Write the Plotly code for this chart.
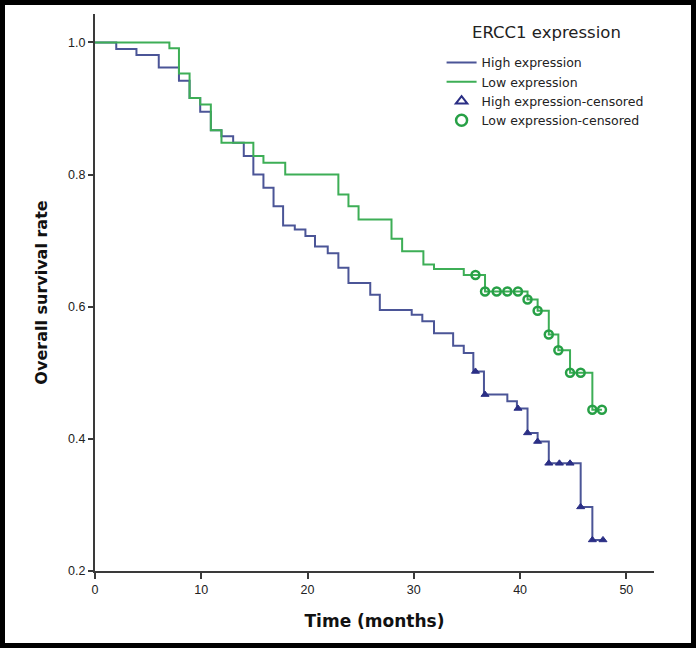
import plotly.graph_objects as go

# ---- data (Kaplan-Meier, ERCC1 expression) ----
high_times = [0, 2.0, 3.9, 6.0, 7.9, 8.9, 9.9, 10.9, 11.9, 13.0, 14.0, 14.9, 15.85, 16.8,
              17.7, 18.8, 19.8, 20.7, 21.9, 22.9, 23.85, 25.9, 26.8, 29.8, 30.8, 31.9,
              33.7, 34.7, 35.6, 36.6, 38.8, 39.7, 40.7, 41.65, 42.7, 45.7, 46.8]
high_surv = [1.0, 0.990, 0.981, 0.962, 0.942, 0.916, 0.895, 0.867, 0.858, 0.848, 0.828,
             0.800, 0.780, 0.752, 0.723, 0.717, 0.707, 0.691, 0.681, 0.659, 0.636, 0.618,
             0.595, 0.588, 0.578, 0.560, 0.541, 0.530, 0.502, 0.467, 0.457, 0.446, 0.409,
             0.396, 0.363, 0.297, 0.247]
high_cens_times = [35.8, 36.7, 39.8, 40.7, 41.65, 42.7, 43.7, 44.7, 45.7, 46.8, 47.8]
high_cens_surv = [0.502, 0.467, 0.446, 0.409, 0.396, 0.363, 0.363, 0.363, 0.297, 0.247, 0.247]

low_times = [0, 7.0, 7.9, 8.9, 9.9, 10.9, 11.9, 14.9, 15.85, 17.9, 22.9, 23.85, 24.8,
             27.9, 28.9, 30.9, 31.9, 34.7, 36.7, 40.7, 41.65, 42.7, 43.6, 44.7, 46.8]
low_surv = [1.0, 0.991, 0.953, 0.916, 0.906, 0.867, 0.848, 0.828, 0.818, 0.800, 0.770,
            0.752, 0.732, 0.703, 0.684, 0.664, 0.657, 0.648, 0.623, 0.611, 0.594, 0.558,
            0.534, 0.500, 0.444]
low_cens_times = [35.8, 36.7, 37.8, 38.8, 39.8, 40.7, 41.65, 42.7, 43.6, 44.7, 45.7, 46.8, 47.7]
low_cens_surv = [0.648, 0.623, 0.623, 0.623, 0.623, 0.611, 0.594, 0.558, 0.534, 0.500,
                 0.500, 0.444, 0.444]

x_ticks = [0, 10, 20, 30, 40, 50]
y_ticks = [0.2, 0.4, 0.6, 0.8, 1.0]

legend_title = "ERCC1 expression"
names = ["High expression", "Low expression",
         "High expression-censored", "Low expression-censored"]

# ---- styles ----
BLUE_LINE = "#4B5597"
BLUE_MARK = "#2B2F85"
GREEN_LINE = "#3DAE56"
GREEN_MARK = "#27A046"
AXIS = "#3a3a3a"
FONT = "Arial, Liberation Sans, sans-serif"
WIDE = "DejaVu Sans, sans-serif"

fig = go.Figure()

# step lines (extended to last censored observation)
fig.add_trace(go.Scatter(
    x=high_times + [max(high_cens_times)], y=high_surv + [high_surv[-1]],
    mode="lines", line=dict(shape="hv", color=BLUE_LINE, width=2),
    name=names[0], hoverinfo="skip"))
fig.add_trace(go.Scatter(
    x=low_times + [max(low_cens_times)], y=low_surv + [low_surv[-1]],
    mode="lines", line=dict(shape="hv", color=GREEN_LINE, width=2),
    name=names[1], hoverinfo="skip"))

# censored marks on the plot
fig.add_trace(go.Scatter(
    x=high_cens_times, y=high_cens_surv, mode="markers",
    marker=dict(symbol="triangle-up", size=7, color=BLUE_MARK,
                line=dict(color=BLUE_MARK, width=1)),
    showlegend=False, name=names[2]))
fig.add_trace(go.Scatter(
    x=low_cens_times, y=low_cens_surv, mode="markers",
    marker=dict(symbol="circle-open", size=8, color=GREEN_MARK,
                line=dict(color=GREEN_MARK, width=2.5)),
    showlegend=False, name=names[3]))

# legend-only entries with open symbols (as in the reference legend)
fig.add_trace(go.Scatter(
    x=[None], y=[None], mode="markers",
    marker=dict(symbol="triangle-up-open", size=10, color=BLUE_MARK,
                line=dict(color=BLUE_MARK, width=2)),
    name=names[2]))
fig.add_trace(go.Scatter(
    x=[None], y=[None], mode="markers",
    marker=dict(symbol="circle-open", size=11, color=GREEN_MARK,
                line=dict(color=GREEN_MARK, width=2.5)),
    name=names[3]))

# ---- layout ----
W, H = 696, 648
ML, MR, MT, MB = 95, 42, 14, 77
PW, PH = W - ML - MR, H - MT - MB

fig.update_layout(
    width=W, height=H,
    margin=dict(l=ML, r=MR, t=MT, b=MB, pad=0),
    paper_bgcolor="white", plot_bgcolor="white",
    font=dict(family=FONT, color="#222222", size=12),
    showlegend=True,
    legend=dict(x=0.62, y=0.939, xanchor="left", yanchor="top",
                bgcolor="rgba(0,0,0,0)", borderwidth=0,
                font=dict(family=WIDE, size=12.5, color="#222222"),
                itemwidth=30, tracegroupgap=0),
    xaxis=dict(range=[0, 52.6], tickvals=x_ticks, ticks="outside", ticklen=6,
               tickwidth=2, tickcolor=AXIS, showline=True, linewidth=2,
               linecolor=AXIS, showgrid=False, zeroline=False,
               tickfont=dict(size=12.5, color="#222222"),
               title=dict(text="<b>Time (months)</b>", standoff=19,
                          font=dict(family=WIDE, size=17, color="#111111"))),
    yaxis=dict(range=[0.2, 1.043], tickvals=y_ticks, tickformat=".1f",
               ticks="outside", ticklen=5, tickwidth=2, tickcolor=AXIS,
               showline=True, linewidth=2, linecolor=AXIS, showgrid=False,
               zeroline=False, tickfont=dict(size=12.5, color="#222222"),
               title=dict(text="<b>Overall survival rate</b>", standoff=17,
                          font=dict(family=WIDE, size=16, color="#111111"))),
    annotations=[dict(text=legend_title, xref="paper", yref="paper",
                      x=(546 - ML) / PW, y=(H - MB - 32) / PH,
                      xanchor="center", yanchor="middle", showarrow=False,
                      font=dict(family=WIDE, size=16.5, color="#222222"))],
    shapes=[dict(type="rect", xref="paper", yref="paper",
                 x0=-ML / PW, x1=(W - ML) / PW,
                 y0=-MB / PH, y1=(H - MB) / PH,
                 line=dict(color="black", width=10), fillcolor="rgba(0,0,0,0)",
                 layer="above")],
)

fig.write_html(
    "out.html",
    config={"displayModeBar": False},
    post_script="document.body.style.margin='0px';document.body.style.overflow='hidden';",
)
